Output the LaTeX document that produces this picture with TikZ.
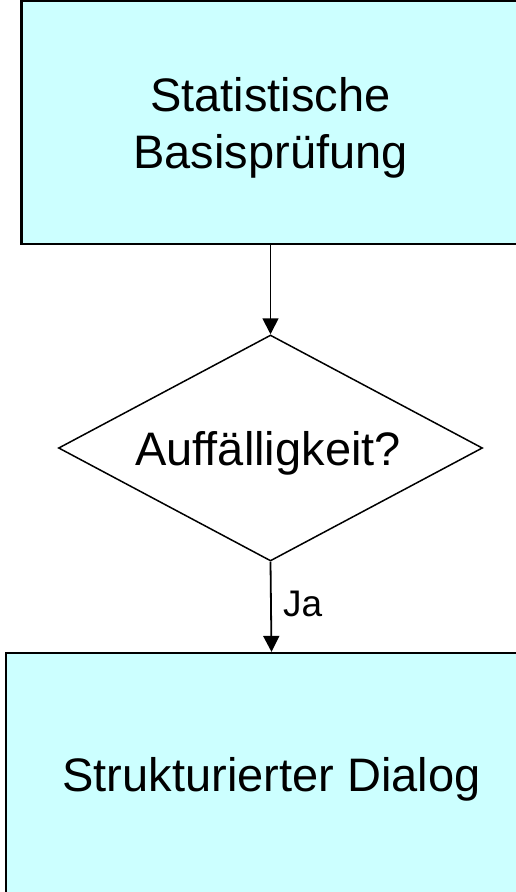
\documentclass[tikz,border=0pt]{standalone}
\usepackage{fontspec}
\setmainfont{Liberation Sans}
\usetikzlibrary{shapes.geometric,arrows.meta}
\definecolor{boxfill}{HTML}{CCFFFF}
\begin{document}
\begin{tikzpicture}[x=1pt,y=-1pt,
  procbox/.style={draw=black, line width=2.2pt, fill=boxfill, inner sep=0pt},
  decision/.style={diamond, draw=black, line width=1.5pt, inner sep=0pt},
  boxtext/.style={font=\fontsize{47}{57}\selectfont, align=center, inner sep=0pt, anchor=base},
  flow/.style={line width=1.8pt, -{Triangle[width=16pt,length=16pt]}}]
\useasboundingbox (0,0) rectangle (516,892);
\clip (0,0) rectangle (516,892);

% process boxes and the decision
\node[procbox, minimum width=498pt, minimum height=243pt] (basis) at (270.5,122.5) {};
\node[decision, minimum width=424pt, minimum height=226pt] (check) at (270.5,448) {};
\node[procbox, minimum width=531pt, minimum height=252pt] (dialog) at (271.5,779) {};

% texts (base anchor sits on the last line)
\node[boxtext] (basistext) at (270.5,168) {Statistische\\Basisprüfung};
\node[boxtext] (checktext) at (268,465) {Auffälligkeit?};
\node[boxtext] (dialogtext) at (271.5,791) {Strukturierter Dialog};

% connectors
\draw[flow] (basis.south) -- (check.north);
\draw[flow] (check.south) -- (dialog.north);
\node[font=\fontsize{37}{44}\selectfont, inner sep=0pt, anchor=base west] (ja) at (283,616) {Ja};
\end{tikzpicture}
\end{document}
